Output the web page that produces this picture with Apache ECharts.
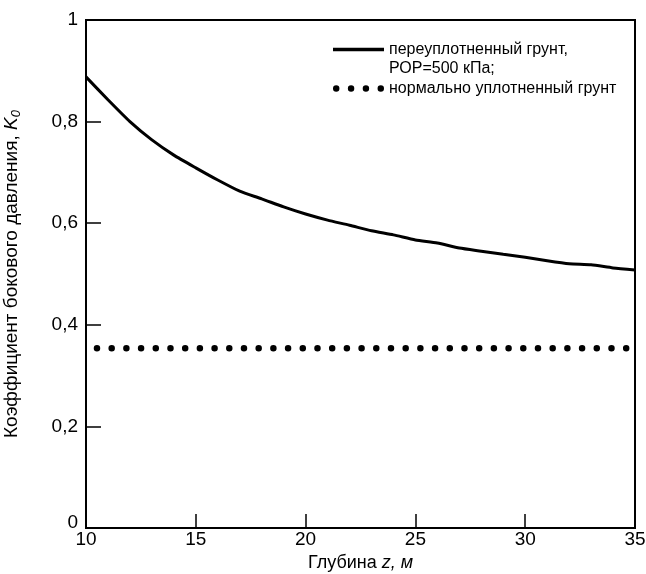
<!DOCTYPE html>
<html>
<head>
<meta charset="utf-8">
<script src="https://cdn.jsdelivr.net/npm/echarts@6/dist/echarts.min.js"></script>
<style>html,body{margin:0;padding:0;background:#fff}#c{width:646px;height:574px}</style>
</head>
<body>
<div id="c"></div>
<script>
// Data
const depth = [10, 11, 12, 13, 14, 15, 16, 17, 18, 19, 20, 21, 22, 23, 24, 25, 26, 27, 28, 29, 30, 31, 32, 33, 34, 35];
const k0Over = [0.888, 0.843, 0.800, 0.764, 0.734, 0.709, 0.685, 0.663, 0.648, 0.632, 0.618, 0.606, 0.596, 0.585, 0.577, 0.567, 0.561, 0.551, 0.545, 0.539, 0.533, 0.526, 0.520, 0.518, 0.512, 0.508];
const normDepth = [10.5, 34.62];
const k0Norm = [0.354, 0.354];
const xTicks = [10, 15, 20, 25, 30, 35];
const yTicks = ['0', '0,2', '0,4', '0,6', '0,8', '1'];
const name1 = 'переуплотненный грунт,\nРОР=500 кПа;';
const name2 = 'нормально уплотненный грунт';

const FONT = '"Liberation Sans", Arial, sans-serif';
const chart = echarts.init(document.getElementById('c'), null, {renderer: 'canvas'});
chart.setOption({
  animation: false,
  backgroundColor: '#fff',
  textStyle: {fontFamily: FONT, color: '#000'},
  grid: {left: 86, right: 11, top: 20, bottom: 46, outerBoundsMode: 'none', containLabel: false,
    show: true, borderColor: '#000', borderWidth: 2, backgroundColor: 'transparent'},
  legend: [{
    data: [{name: name1, icon: 'path://M0,0H51V3.5H0Z'}],
    left: 333, top: 21, padding: 0, itemWidth: 51, itemHeight: 3.5,
    selectedMode: false,
    formatter: n => ' \n' + n,
    textStyle: {fontFamily: FONT, fontSize: 16, color: '#000', lineHeight: 19}
  }, {
    data: [{name: name2, icon: 'path://M3.25,0A3.25,3.25 0 1,1 3.25,6.5A3.25,3.25 0 1,1 3.25,0Z M18.25,0A3.25,3.25 0 1,1 18.25,6.5A3.25,3.25 0 1,1 18.25,0Z M33.25,0A3.25,3.25 0 1,1 33.25,6.5A3.25,3.25 0 1,1 33.25,0Z M48.25,0A3.25,3.25 0 1,1 48.25,6.5A3.25,3.25 0 1,1 48.25,0Z'}],
    left: 333, top: 79, padding: 0, itemWidth: 51, itemHeight: 6.5,
    selectedMode: false,
    textStyle: {fontFamily: FONT, fontSize: 16, color: '#000', lineHeight: 19}
  }],
  xAxis: {
    type: 'value', min: 10, max: 35, interval: 5,
    axisLine: {show: true, lineStyle: {color: '#000', width: 2}},
    axisTick: {show: true, inside: true, length: 14, lineStyle: {color: '#000', width: 1.5}},
    axisLabel: {color: '#000', fontSize: 19, fontFamily: FONT, margin: 2,
      formatter: v => xTicks.indexOf(v) >= 0 ? String(v) : ''},
    splitLine: {show: false},
    name: 'Глубина {i|z, м}',
    nameLocation: 'middle', nameGap: 25,
    nameTextStyle: {color: '#000', fontSize: 18, fontFamily: FONT,
      rich: {i: {fontStyle: 'italic', fontSize: 18, fontFamily: FONT, color: '#000'}}}
  },
  yAxis: {
    type: 'value', min: 0, max: 1, interval: 0.2,
    axisLine: {show: true, lineStyle: {color: '#000', width: 2}},
    axisTick: {show: true, inside: true, length: 15, lineStyle: {color: '#000', width: 1.5}},
    axisLabel: {color: '#000', fontSize: 19, fontFamily: FONT, margin: 8,
      formatter: v => {
        const i = Math.round(v * 5);
        return i === 0 ? '{z|' + yTicks[0] + '}' : yTicks[i];
      },
      rich: {z: {fontSize: 19, fontFamily: FONT, color: '#000', padding: [0, 0, 10, 0]}}},
    splitLine: {show: false},
    name: '{n|Коэффициент бокового давления, }{k|K}{s|0}',
    nameLocation: 'middle', nameGap: 63,
    nameTextStyle: {rich: {
      n: {fontSize: 19, fontFamily: FONT, color: '#000'},
      k: {fontSize: 19, fontFamily: FONT, color: '#000', fontStyle: 'italic'},
      s: {fontSize: 13, fontFamily: FONT, color: '#000', fontStyle: 'italic', verticalAlign: 'bottom', padding: [9, 0, 0, 0]}
    }}
  },
  series: [{
    name: name1, type: 'line', data: depth.map((d, i) => [d, k0Over[i]]),
    showSymbol: false, symbol: 'none', smooth: 0.2,
    lineStyle: {color: '#000', width: 3}, itemStyle: {color: '#000'}
  }, {
    name: name2, type: 'line', data: normDepth.map((d, i) => [d, k0Norm[i]]),
    showSymbol: false, symbol: 'none',
    lineStyle: {color: '#000', width: 6.5, type: [0, 14.7], cap: 'round'}, itemStyle: {color: '#000'}
  }]
});
</script>
</body>
</html>
